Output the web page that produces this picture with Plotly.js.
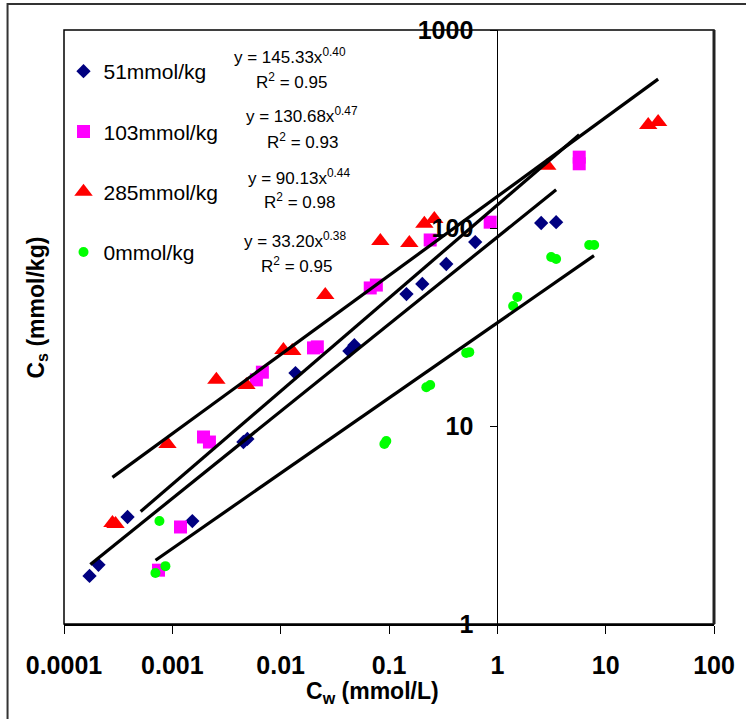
<!DOCTYPE html>
<html>
<head>
<meta charset="utf-8">
<script src="https://cdn.plot.ly/plotly-3.0.1.min.js"></script>
<style>
  html, body { margin: 0; padding: 0; background: #ffffff; }
  #chart { width: 746px; height: 719px; }
</style>
</head>
<body>
<div id="chart"></div>
<script>
// ---- Data ----
const xTickVals = [0.0001, 0.001, 0.01, 0.1, 1, 10, 100];
const xTickText = ['0.0001', '0.001', '0.01', '0.1', '1', '10', '100'];
const yTickVals = [1, 10, 100, 1000];
const yTickText = ['1', '10', '100', '1000'];

const seriesNames = ['51mmol/kg', '103mmol/kg', '285mmol/kg', '0mmol/kg'];

const s51x = [1.72e-4, 2.08e-4, 3.86e-4, 1.53e-3, 4.53e-3, 4.93e-3, 0.0137, 0.0431, 0.0479, 0.145, 0.203, 0.338, 0.625, 2.54, 3.49];
const s51y = [1.75, 1.99, 3.47, 3.31, 8.30, 8.60, 18.5, 23.9, 25.6, 46.4, 52.2, 65.8, 84.9, 106, 107];

const s103x = [7.45e-4, 1.19e-3, 1.94e-3, 2.20e-3, 5.97e-3, 6.78e-3, 0.0201, 0.0218, 0.0671, 0.0764, 0.240, 0.859, 5.70, 5.70];
const s103y = [1.87, 3.09, 8.80, 8.30, 17.1, 18.7, 24.8, 25.1, 49.8, 51.5, 87.0, 107, 228, 211];

const s285x = [2.80e-4, 2.99e-4, 9.02e-4, 2.55e-3, 4.83e-3, 0.0106, 0.0128, 0.0258, 0.0832, 0.154, 0.212, 0.262, 2.89, 24.7, 30.5];
const s285y = [3.24, 3.20, 8.11, 17.1, 16.1, 24.2, 23.9, 45.9, 86.0, 84.0, 105, 111, 206, 331, 343];

const s0x = [6.98e-4, 8.63e-4, 7.60e-4, 0.0906, 0.0944, 0.221, 0.240, 0.516, 0.551, 1.40, 1.53, 3.14, 3.49, 7.05, 7.83];
const s0y = [1.81, 1.96, 3.31, 8.11, 8.40, 15.7, 16.1, 23.4, 23.6, 40.4, 44.8, 71.4, 69.7, 82.1, 82.1];

// trend lines (end points)
const lineAx = [2.8e-4, 30.5];  const lineAy = [5.5, 565];
const lineBx = [5.1e-4, 5.7];   const lineBy = [3.7, 296];
const lineCx = [1.75e-4, 3.49]; const lineCy = [2.0, 156];
const lineDx = [7.0e-4, 7.8];   const lineDy = [2.1, 72.5];

const eqTexts = ['y = 145.33x<sup>0.40</sup>', 'y = 130.68x<sup>0.47</sup>', 'y = 90.13x<sup>0.44</sup>', 'y = 33.20x<sup>0.38</sup>'];
const r2Texts = ['R<sup>2</sup> = 0.95', 'R<sup>2</sup> = 0.93', 'R<sup>2</sup> = 0.98', 'R<sup>2</sup> = 0.95'];

// ---- Layout geometry (pixels) ----
const W = 746, H = 719;
const L = 63.5, R = 714, T = 30, B = 624;
const px = v => (v - L) / (R - L);
const py = v => (B - v) / (B - T);

const FONT = 'Arial, "Liberation Sans", sans-serif';

function markerTrace(x, y, name, symbol, color, size, group) {
  return {
    x: x, y: y, name: name, type: 'scatter', mode: 'markers',
    legendgroup: group,
    marker: { symbol: symbol, color: color, size: size, line: { width: 0 } },
    hoverinfo: 'x+y+name'
  };
}
function lineTrace(x, y) {
  return {
    x: x, y: y, type: 'scatter', mode: 'lines', showlegend: false,
    line: { color: '#000000', width: 3.2 }, hoverinfo: 'skip'
  };
}

const traces = [
  markerTrace(s51x, s51y, seriesNames[0], 'diamond', '#000080', 11, 'g1'),
  markerTrace(s103x, s103y, seriesNames[1], 'square', '#FF00FF', 13, 'g2'),
  markerTrace(s285x, s285y, seriesNames[2], 'triangle-up', '#FF0000', 16, 'g3'),
  markerTrace(s0x, s0y, seriesNames[3], 'circle', '#00FF00', 10, 'g4'),
  lineTrace(lineAx, lineAy),
  lineTrace(lineBx, lineBy),
  lineTrace(lineCx, lineCy),
  lineTrace(lineDx, lineDy)
];

const eqPos = [[289.5, 56], [301.5, 115], [298.5, 177], [294.5, 240]];
const r2Pos = [[291, 81], [302, 141], [299.5, 201], [296, 265]];

const annotations = [];
eqTexts.forEach((t, i) => annotations.push({
  xref: 'paper', yref: 'paper', x: px(eqPos[i][0]), y: py(eqPos[i][1]),
  xanchor: 'center', yanchor: 'middle', showarrow: false, text: t,
  font: { family: FONT, size: 17, color: '#000' }
}));
r2Texts.forEach((t, i) => annotations.push({
  xref: 'paper', yref: 'paper', x: px(r2Pos[i][0]), y: py(r2Pos[i][1]),
  xanchor: 'center', yanchor: 'middle', showarrow: false, text: t,
  font: { family: FONT, size: 17, color: '#000' }
}));
// axis titles
annotations.push({
  xref: 'paper', yref: 'paper', x: px(372), y: py(692),
  xanchor: 'center', yanchor: 'middle', showarrow: false,
  text: 'C<sub>w</sub> (mmol/L)',
  font: { family: FONT, size: 23, color: '#000', weight: 700 }
});
annotations.push({
  xref: 'paper', yref: 'paper', x: px(36), y: py(308),
  xanchor: 'center', yanchor: 'middle', showarrow: false, textangle: -90,
  text: 'C<sub>s</sub> (mmol/kg)',
  font: { family: FONT, size: 23, color: '#000', weight: 700 }
});

const layout = {
  width: W, height: H,
  margin: { l: L, r: W - R, t: T, b: H - B, pad: 0 },
  paper_bgcolor: '#ffffff', plot_bgcolor: '#ffffff',
  font: { family: FONT, color: '#000' },
  showlegend: true,
  legend: {
    x: px(63), y: py(51), xanchor: 'left', yanchor: 'top',
    bgcolor: 'rgba(0,0,0,0)', borderwidth: 0,
    font: { family: FONT, size: 21, color: '#000' },
    tracegroupgap: 30, traceorder: 'grouped', itemwidth: 30
  },
  xaxis: {
    type: 'log', range: [-4, 2], autorange: false,
    tickmode: 'array', tickvals: xTickVals, ticktext: xTickText,
    ticks: 'outside', ticklen: 8, tickwidth: 1, tickcolor: '#000',
    showline: true, linecolor: '#000', linewidth: 1.5,
    showgrid: false, zeroline: false,
    tickfont: { family: FONT, size: 25, color: '#000', weight: 700 },
    ticklabelstandoff: 10
  },
  yaxis: {
    type: 'log', range: [0, 3], autorange: false,
    anchor: 'free', position: 4 / 6, side: 'left',
    tickmode: 'array', tickvals: yTickVals, ticktext: yTickText,
    ticks: 'outside', ticklen: 7, tickwidth: 1, tickcolor: '#000',
    showline: true, linecolor: '#000', linewidth: 1,
    showgrid: false, zeroline: false,
    tickfont: { family: FONT, size: 25, color: '#000', weight: 700 },
    ticklabelstandoff: 12
  },
  shapes: [
    // plot frame
    { type: 'rect', xref: 'paper', yref: 'paper', x0: 0, x1: 1, y0: 0, y1: 1,
      line: { color: '#000', width: 1.5 }, fillcolor: 'rgba(0,0,0,0)', layer: 'above' },
    { type: 'line', xref: 'paper', yref: 'paper', x0: 1, x1: 1, y0: 0, y1: 1,
      line: { color: '#222', width: 3 }, layer: 'above' },
    // outer chart border
    { type: 'rect', xref: 'paper', yref: 'paper',
      x0: px(7), x1: px(760), y0: py(740), y1: py(4),
      line: { color: '#333', width: 2 }, fillcolor: 'rgba(0,0,0,0)', layer: 'below' }
  ],
  annotations: annotations
};

Plotly.newPlot('chart', traces, layout, { displayModeBar: false, staticPlot: true });
</script>
</body>
</html>
